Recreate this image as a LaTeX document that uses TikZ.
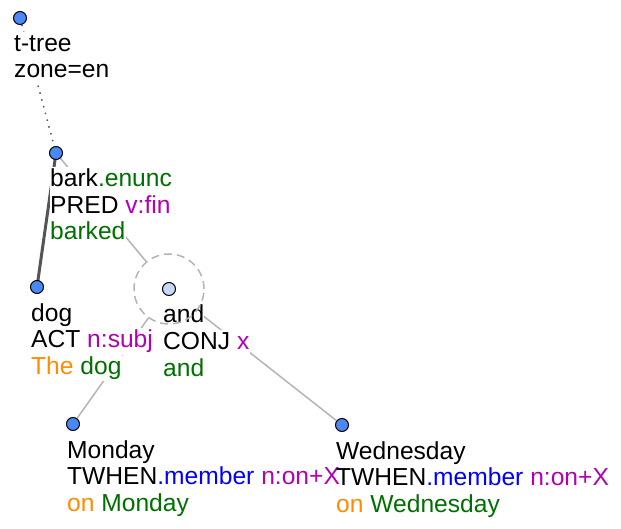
\documentclass[tikz,border=0pt]{standalone}
\usepackage{fontspec}
\setmainfont{Liberation Sans}
\usepackage{xcolor}
\usepackage{tikz}
\usetikzlibrary{calc,positioning,backgrounds}
\definecolor{ttBlue}{RGB}{74,136,245}
\definecolor{ttPale}{RGB}{200,216,248}
\definecolor{ttGreen}{RGB}{0,112,0}
\definecolor{ttMagenta}{RGB}{178,0,178}
\definecolor{ttOrange}{RGB}{255,140,0}
\definecolor{ttMember}{RGB}{0,0,255}
\definecolor{ttEdge}{RGB}{180,180,180}
\definecolor{ttDark}{RGB}{85,85,85}
\pgfdeclarelayer{mask}
\pgfsetlayers{background,mask,main}

\begin{document}
\begin{tikzpicture}[x=1pt,y=-1pt,
    dot/.style={circle, draw=black, line width=1pt, fill=ttBlue, minimum size=13pt, inner sep=0pt},
    lbl/.style={anchor=base west, inner sep=0pt, text height=19.5pt, text depth=7pt,
        font=\fontsize{24.6}{26.5}\selectfont},
    thinedge/.style={ttEdge, line width=1.5pt},
    mainedge/.style={ttDark, line width=3pt},
    rootedge/.style={ttDark, line width=1.5pt, dash pattern=on 1.5pt off 5.5pt}]
    \useasboundingbox (0,0) rectangle (621,529);

    % tree nodes
    \node[dot] (root) at (20,18) {};
    \node[dot] (bark) at (56,153) {};
    \node[dot] (dog) at (37,287) {};
    \node[dot, fill=ttPale] (and) at (169,289) {};
    \node[dot] (monday) at (73,424) {};
    \node[dot] (wednesday) at (342,425) {};

    % labels
    \node[lbl] (root1) at ($(root)+(-6,34)$) {t-tree};
    \node[lbl] (root2) at ($(root)+(-6,60)$) {zone=en};

    \node[lbl] (bark1) at ($(bark)+(-6,34)$) {bark\textcolor{ttGreen}{.enunc}};
    \node[lbl] (bark2) at ($(bark)+(-6,60.5)$) {PRED \textcolor{ttMagenta}{v:fin}};
    \node[lbl] (bark3) at ($(bark)+(-6,87)$) {\textcolor{ttGreen}{barked}};

    \node[lbl] (dog1) at ($(dog)+(-6,34)$) {dog};
    \node[lbl] (dog2) at ($(dog)+(-6,60.5)$) {ACT \textcolor{ttMagenta}{n:subj}};
    \node[lbl] (dog3) at ($(dog)+(-6,87)$) {\textcolor{ttOrange}{The} \textcolor{ttGreen}{dog}};

    \node[lbl] (and1) at ($(and)+(-6,34)$) {and};
    \node[lbl] (and2) at ($(and)+(-6,60.5)$) {CONJ \textcolor{ttMagenta}{x}};
    \node[lbl] (and3) at ($(and)+(-6,87)$) {\textcolor{ttGreen}{and}};

    \node[lbl] (monday1) at ($(monday)+(-6,34)$) {Monday};
    \node[lbl] (monday2) at ($(monday)+(-6,60.5)$) {TWHEN\textcolor{ttMember}{.member} \textcolor{ttMagenta}{n:on+X}};
    \node[lbl] (monday3) at ($(monday)+(-6,87)$) {\textcolor{ttOrange}{on} \textcolor{ttGreen}{Monday}};

    \node[lbl] (wednesday1) at ($(wednesday)+(-6,34)$) {Wednesday};
    \node[lbl] (wednesday2) at ($(wednesday)+(-6,60.5)$) {TWHEN\textcolor{ttMember}{.member} \textcolor{ttMagenta}{n:on+X}};
    \node[lbl] (wednesday3) at ($(wednesday)+(-6,87)$) {\textcolor{ttOrange}{on} \textcolor{ttGreen}{Wednesday}};

    % coordination ring
    \node[circle, draw=ttEdge, line width=1.5pt, dash pattern=on 8pt off 5pt,
        minimum size=70pt, inner sep=0pt] (ring) at (and) {};

    % white boxes behind the labels
    \begin{pgfonlayer}{mask}
        \foreach \n in {root1,root2,bark1,bark2,bark3,dog1,dog2,dog3,and1,and2,and3,
            monday1,monday2,monday3,wednesday1,wednesday2,wednesday3}
            \fill[white] (\n.south west) rectangle (\n.north east);
    \end{pgfonlayer}

    % edges
    \begin{pgfonlayer}{background}
        \draw[rootedge] (root) -- (bark);
        \draw[mainedge] (bark.center) -- (dog.center);
        \draw[thinedge] (bark) -- (ring);
        \draw[thinedge] (ring) -- (monday);
        \draw[thinedge] (ring) -- (wednesday);
    \end{pgfonlayer}
\end{tikzpicture}
\end{document}
